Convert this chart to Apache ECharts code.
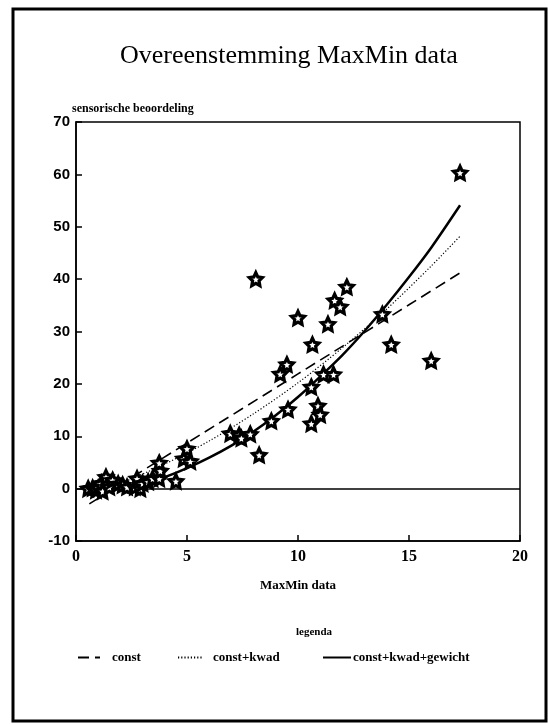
<!DOCTYPE html>
<html><head><meta charset="utf-8">
<script src="https://cdn.jsdelivr.net/npm/echarts@6/dist/echarts.min.js"></script>
<style>html,body{margin:0;padding:0;background:#fff}#c{width:548px;height:724px}</style>
</head><body><div id="c"></div>
<script>
// measured points (MaxMin data, sensorische beoordeling)
var pointsX = [0.55,0.75,0.9,1.0,1.15,1.2,1.35,1.5,1.65,1.9,2.1,2.3,2.65,2.75,2.9,3.0,3.25,3.45,3.75,3.8,3.75,4.5,4.85,5.0,5.15,6.95,7.35,7.45,7.85,8.1,8.25,8.8,9.2,9.5,9.55,10.0,10.6,10.6,10.65,10.9,11.0,11.15,11.35,11.6,11.65,11.9,12.2,13.8,14.2,16.0,17.3];
var pointsY = [0,0.1,-0.3,0.1,1.0,-0.5,2.2,0.3,1.6,0.9,0.7,0.3,0.3,1.9,0.0,1.0,1.3,1.9,1.9,3.4,4.9,1.4,5.7,7.6,5.2,10.5,10.2,9.6,10.4,40,6.4,12.9,21.9,23.7,15.1,32.6,12.4,19.4,27.5,15.8,14.1,21.8,31.4,21.8,35.9,34.7,38.5,33.3,27.5,24.4,60.3];
// fitted curves
var constX = [0.6,5,10,15,17.3];
var constY = [-2.9,8.7,21.9,35.1,41.2];
var kwadX = [0.6,2,4,6,8,10,12,14,16,17.3];
var kwadY = [-1.1,1.0,4.7,9.1,14.3,20.2,26.9,34.3,42.5,48.2];
var gewX = [0.6,2,3,4,5,6,7,8,9,10,11,12,13,14,15,16,17.3];
var gewY = [-0.4,0.2,1.0,2.2,3.9,5.9,8.2,10.9,14.0,17.5,21.4,25.5,30.1,35.1,40.4,46.0,54.1];
var xTicks = [0,5,10,15,20];
var yTicks = [-10,0,10,20,30,40,50,60,70];
var seriesNames = ['const','const+kwad','const+kwad+gewicht'];

function zip(a,b){return a.map(function(v,i){return [v,b[i]];});}
var star = 'path://M0,-10 L2.9,-4 L9.5,-3.1 L4.7,1.5 L5.9,8.1 L0,5 L-5.9,8.1 L-4.7,1.5 L-9.5,-3.1 L-2.9,-4 Z';
var serif = '"Liberation Serif","DejaVu Serif",serif';
var sans = '"Liberation Sans","DejaVu Sans",sans-serif';

var chart = echarts.init(document.getElementById('c'), null, {renderer:'canvas'});
var legendBase = function(name,left,w,pad){
  return {data:[name], left:left, top:651, padding:0, itemWidth:w, itemHeight:10, itemGap:0,
    itemStyle:{opacity:0},
    textStyle:{fontFamily:serif, fontWeight:'bold', fontSize:13, color:'#000', padding:[0,0,0,pad]},
    lineStyle:{type:'inherit'}};
};
chart.setOption({
  animation:false,
  backgroundColor:'#fff',
  title:[
    {text:'Overeenstemming MaxMin data', top:43, padding:0, left:120, textStyle:{fontFamily:serif, fontWeight:'normal', fontSize:26, color:'#000'}},
    {text:'legenda', left:296, top:627, padding:0, textStyle:{fontFamily:serif, fontWeight:'bold', fontSize:11, color:'#000'}}
  ],
  legend:[legendBase(seriesNames[0],77,22,7), legendBase(seriesNames[1],177,24,6), legendBase(seriesNames[2],322,28,-3)],
  graphic:[{type:'rect', shape:{x:13,y:9,width:533,height:712}, style:{fill:'none', stroke:'#000', lineWidth:3}, silent:true}],
  grid:{left:76, top:122, right:28, bottom:183, show:true, borderColor:'#000', borderWidth:1.5},
  xAxis:{type:'value', min:xTicks[0], max:xTicks[xTicks.length-1], interval:5,
    name:'MaxMin data', nameLocation:'middle', nameGap:38,
    nameTextStyle:{fontFamily:serif, fontWeight:'bold', fontSize:13, color:'#000'},
    axisLine:{onZero:false, lineStyle:{color:'#000', width:1.5}},
    axisTick:{inside:true, length:6, lineStyle:{color:'#000', width:1.5}},
    axisLabel:{fontFamily:serif, fontWeight:'bold', fontSize:16, color:'#000', margin:8},
    splitLine:{show:false}},
  yAxis:{type:'value', min:yTicks[0], max:yTicks[yTicks.length-1], interval:10,
    name:'sensorische beoordeling', nameLocation:'end', nameGap:5,
    nameTextStyle:{fontFamily:serif, fontWeight:'bold', fontSize:12, color:'#000', align:'left', padding:[0,0,0,-4]},
    axisLine:{lineStyle:{color:'#000', width:1.5}},
    axisTick:{inside:true, length:6, lineStyle:{color:'#000', width:1.5}},
    axisLabel:{fontFamily:sans, fontWeight:'bold', fontSize:15, color:'#000', margin:6},
    splitLine:{show:false}},
  series:[
    {name:seriesNames[0], type:'line', data:zip(constX,constY), symbol:'none', smooth:0.3, z:2,
      lineStyle:{color:'#000', width:1.6, type:[11,6]}, itemStyle:{color:'#000'},
      markLine:{silent:true, symbol:'none', label:{show:false}, lineStyle:{color:'#000', width:1.5, type:'solid'}, data:[{yAxis:0}]}},
    {name:seriesNames[1], type:'line', data:zip(kwadX,kwadY), symbol:'none', smooth:0.3, z:2,
      lineStyle:{color:'#000', width:1.2, type:[1.2,2]}, itemStyle:{color:'#000'}},
    {name:seriesNames[2], type:'line', data:zip(gewX,gewY), symbol:'none', smooth:0.3, z:2,
      lineStyle:{color:'#000', width:2.5, type:'solid'}, itemStyle:{color:'#000'}},
    {name:'data', type:'scatter', data:zip(pointsX,pointsY), symbol:star, symbolSize:13, z:5,
      itemStyle:{color:'#fff', borderColor:'#000', borderWidth:3.2, opacity:1}}
  ]
});
</script></body></html>
